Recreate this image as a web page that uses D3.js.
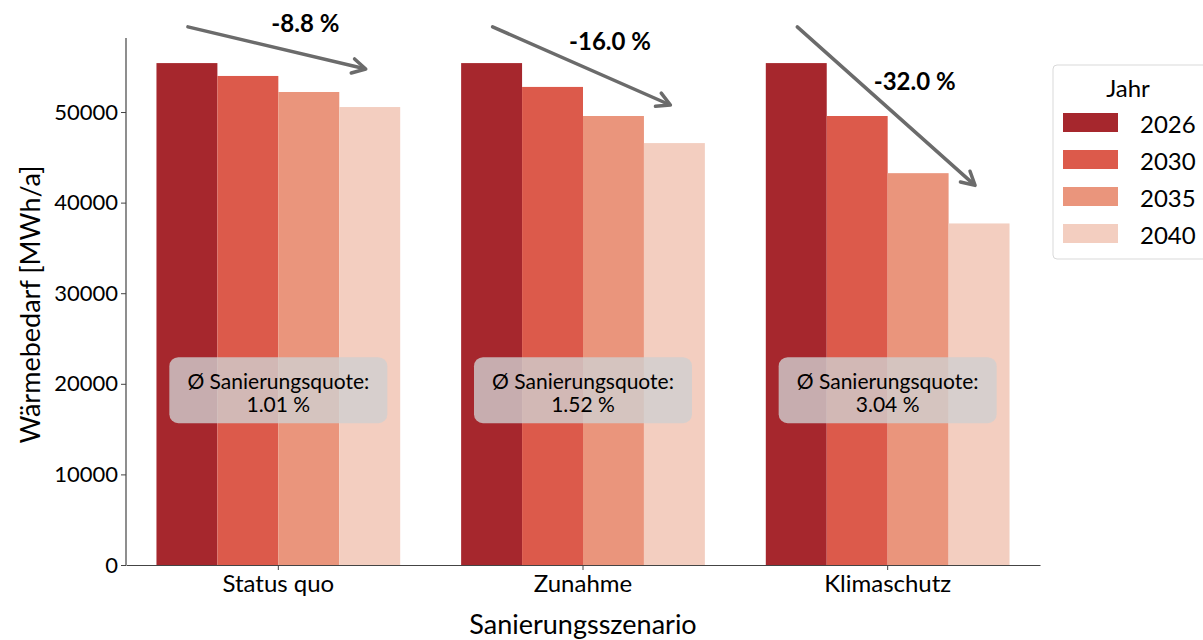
<!DOCTYPE html>
<meta charset="utf-8">
<head>
    <meta charset="utf-8">
    <title>Wärmebedarf</title>
    <script src="https://d3js.org/d3.v7.min.js"></script>
    <style>
        body { margin: 0; background: #fff; }
        text { font-family: Lato, "Open Sans", sans-serif; fill: #000; }
    </style>
</head>
<body>
    <svg width="1203" height="640"></svg>
    <script>
        // data
        var scenarios = ["Status quo", "Zunahme", "Klimaschutz"];
        var years = ["2026", "2030", "2035", "2040"];
        var values2026 = [55400, 55400, 55400];
        var values2030 = [53980, 52770, 49560];
        var values2035 = [52210, 49560, 43250];
        var values2040 = [50550, 46570, 37700];
        var changeLabels = ["-8.8 %", "-16.0 %", "-32.0 %"];
        var quoteLabels = ["1.01 %", "1.52 %", "3.04 %"];
        var yTicks = [0, 10000, 20000, 30000, 40000, 50000];

        var colors = ["#a6272d", "#dc5a4b", "#ea957c", "#f3cec0"];
        var series = [values2026, values2030, values2035, values2040];

        var svg = d3.select("svg");
        var mLeft = 126, mRight = 1040, mTop = 38, mBottom = 565;

        var x = d3.scaleBand().domain(scenarios).range([mLeft, mRight])
            .paddingInner(0.2).paddingOuter(0.1);
        var xs = d3.scaleBand().domain(years).range([0, x.bandwidth()]);
        var y = d3.scaleLinear().domain([0, 55400 * 1.05]).range([mBottom, mTop]);

        // bars
        var rows = [];
        scenarios.forEach(function (s, i) {
            years.forEach(function (yr, j) {
                rows.push({ scen: s, year: yr, v: series[j][i], c: colors[j] });
            });
        });
        svg.append("g").selectAll("rect")
            .data(rows)
            .enter().append("rect")
            .attr("x", function (d) { return x(d.scen) + xs(d.year); })
            .attr("y", function (d) { return y(d.v); })
            .attr("width", xs.bandwidth())
            .attr("height", function (d) { return y(0) - y(d.v); })
            .attr("fill", function (d) { return d.c; });

        // axes
        var yAxis = svg.append("g")
            .attr("transform", "translate(" + mLeft + ",0)")
            .call(d3.axisLeft(y).tickValues(yTicks).tickFormat(d3.format("d")).tickSize(5).tickPadding(3));
        var xAxis = svg.append("g")
            .attr("transform", "translate(0," + mBottom + ")")
            .call(d3.axisBottom(x).tickSize(5).tickPadding(3).tickSizeOuter(0));
        [yAxis, xAxis].forEach(function (a) {
            a.select(".domain").attr("stroke", "#444").attr("stroke-width", 1.2);
            a.selectAll(".tick line").attr("stroke", "#444");
            a.selectAll(".tick text").attr("fill", "#000");
        });
        yAxis.selectAll(".tick text").style("font-size", "22px");
        xAxis.selectAll(".tick text").style("font-size", "24px").attr("dy", "0.78em");
        yAxis.select(".domain").attr("d", "M0," + mBottom + "V" + mTop);

        svg.append("text")
            .attr("transform", "translate(29," + ((mTop + mBottom) / 2 + 3) + ") rotate(-90)")
            .attr("text-anchor", "middle")
            .attr("dominant-baseline", "central")
            .style("font-size", "27px")
            .text("Wärmebedarf [MWh/a]");
        svg.append("text")
            .attr("x", (mLeft + mRight) / 2)
            .attr("y", 623)
            .attr("text-anchor", "middle")
            .attr("dominant-baseline", "central")
            .style("font-size", "27px")
            .text("Sanierungsszenario");

        // arrows and percentage change
        scenarios.forEach(function (s, i) {
            var x0 = x(s) + xs("2026") + xs.bandwidth() / 2 + 1;
            var x1 = x(s) + xs("2040") + xs.bandwidth() / 2 - 4;
            var y0 = y(59400);
            var y1 = y(values2040[i] + 4200);
            var ang = Math.atan2(y1 - y0, x1 - x0);
            var g = svg.append("g");
            g.append("line")
                .attr("x1", x0).attr("y1", y0)
                .attr("x2", x1 - 2 * Math.cos(ang)).attr("y2", y1 - 2 * Math.sin(ang))
                .attr("stroke", "#6b6b6b").attr("stroke-width", 3.5)
                .attr("stroke-linecap", "round");
            var hl = 15, spread = 0.5;
            var p = [
                [x1 - hl * Math.cos(ang - spread), y1 - hl * Math.sin(ang - spread)],
                [x1, y1],
                [x1 - hl * Math.cos(ang + spread), y1 - hl * Math.sin(ang + spread)]
            ];
            g.append("path")
                .attr("d", d3.line()(p))
                .attr("fill", "none")
                .attr("stroke", "#6b6b6b").attr("stroke-width", 3.5)
                .attr("stroke-linecap", "round").attr("stroke-linejoin", "round");

            svg.append("text")
                .attr("x", x(s) + x.bandwidth() / 2 + 27)
                .attr("y", y((values2026[i] + values2040[i]) / 2 + 6900))
                .attr("text-anchor", "middle")
                .attr("dominant-baseline", "central")
                .style("font-size", "24px")
                .style("font-weight", "bold")
                .text(changeLabels[i]);
        });

        // Sanierungsquote boxes
        scenarios.forEach(function (s, i) {
            var cx = x(s) + x.bandwidth() / 2;
            var cy = y(19300);
            var w = 218, h = 66;
            svg.append("rect")
                .attr("x", cx - w / 2).attr("y", cy - h / 2)
                .attr("width", w).attr("height", h)
                .attr("rx", 9)
                .attr("fill", "#d0d0d0")
                .attr("fill-opacity", 0.8);
            svg.append("text")
                .attr("x", cx).attr("y", cy - 10)
                .attr("text-anchor", "middle").attr("dominant-baseline", "central")
                .style("font-size", "21px")
                .text("Ø Sanierungsquote:");
            svg.append("text")
                .attr("x", cx).attr("y", cy + 13)
                .attr("text-anchor", "middle").attr("dominant-baseline", "central")
                .style("font-size", "21px")
                .text(quoteLabels[i]);
        });

        // legend
        var lg = svg.append("g").attr("transform", "translate(1053,65)");
        lg.append("rect")
            .attr("width", 160).attr("height", 194).attr("rx", 4)
            .attr("fill", "#fff").attr("stroke", "#d9d9d9");
        lg.append("text")
            .attr("x", 75).attr("y", 22)
            .attr("text-anchor", "middle").attr("dominant-baseline", "central")
            .style("font-size", "24px").text("Jahr");
        var item = lg.selectAll(".item").data(years).enter().append("g")
            .attr("transform", function (d, i) { return "translate(10," + (48 + i * 37) + ")"; });
        item.append("rect")
            .attr("width", 55).attr("height", 19)
            .attr("fill", function (d, i) { return colors[i]; });
        item.append("text")
            .attr("x", 77).attr("y", 10)
            .attr("dominant-baseline", "central")
            .style("font-size", "24px")
            .text(function (d) { return d; });
    </script>
</body>
